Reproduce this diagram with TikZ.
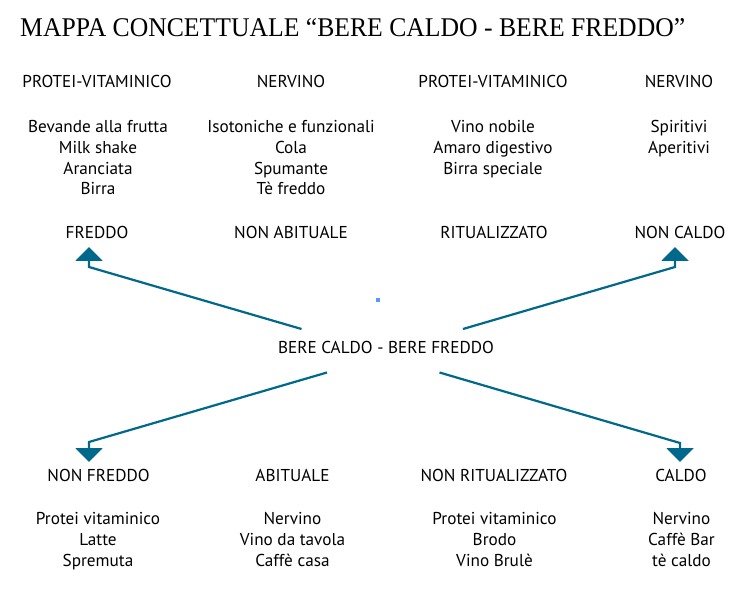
\documentclass[tikz,border=0pt]{standalone}
\usepackage{fontspec}
\usepackage{graphicx}
\setmainfont{PT Sans}
\newfontfamily\titlefont{Liberation Serif}
\usetikzlibrary{arrows.meta}
\definecolor{freccia}{RGB}{0,104,139}
\definecolor{puntino}{RGB}{85,153,255}
\tikzset{
  voce/.style={anchor=base,inner sep=0pt,font=\fontsize{17.2}{17.2}\selectfont},
  conn/.style={draw=freccia,line width=2.2pt,-{Triangle[width=27pt,length=14pt]}}
}
\begin{document}
\begin{tikzpicture}[x=1pt,y=-1pt]
      \useasboundingbox (0,0) rectangle (752,601);
      \node[anchor=base west,inner sep=0pt] (titolo) at (20,36.7)
        {\resizebox{665pt}{18pt}{\titlefont MAPPA CONCETTUALE “BERE CALDO - BERE FREDDO”}};
      \node[voce] (pv1) at (97,88) {PROTEI-VITAMINICO};
      \node[voce] (nv1) at (291,88) {NERVINO};
      \node[voce] (pv2) at (493,88) {PROTEI-VITAMINICO};
      \node[voce] (nv2) at (679,88) {NERVINO};
      \foreach \t [count=\i] in {Bevande alla frutta,Milk shake,Aranciata,Birra}
        \node[voce] (a\i) at (98,{111.7+20.8*\i}) {\t};
      \foreach \t [count=\i] in {Isotoniche e funzionali,Cola,Spumante,Tè freddo}
        \node[voce] (b\i) at (291,{111.7+20.8*\i}) {\t};
      \foreach \t [count=\i] in {Vino nobile,Amaro digestivo,Birra speciale}
        \node[voce] (c\i) at (493,{111.7+20.8*\i}) {\t};
      \foreach \t [count=\i] in {Spiritivi,Aperitivi}
        \node[voce] (d\i) at (679,{111.7+20.8*\i}) {\t};
      \node[voce] (freddo) at (97,239) {FREDDO};
      \node[voce] (nonabituale) at (291,239) {NON ABITUALE};
      \node[voce] (ritualizzato) at (494,239) {RITUALIZZATO};
      \node[voce] (noncaldo) at (680,239) {NON CALDO};
      \node[voce] (centro) at (386,353) {BERE CALDO - BERE FREDDO};
      \node[voce] (nonfreddo) at (98.5,481) {NON FREDDO};
      \node[voce] (abituale) at (292.5,481) {ABITUALE};
      \node[voce] (nonritualizzato) at (494,481) {NON RITUALIZZATO};
      \node[voce] (caldo) at (681,481) {CALDO};
      \foreach \t [count=\i] in {Protei vitaminico,Latte,Spremuta}
        \node[voce] (e\i) at (98,{502.7+21.3*\i}) {\t};
      \foreach \t [count=\i] in {Nervino,Vino da tavola,Caffè casa}
        \node[voce] (f\i) at (292.5,{502.7+21.3*\i}) {\t};
      \foreach \t [count=\i] in {Protei vitaminico,Brodo,Vino Brulè}
        \node[voce] (g\i) at (494.5,{502.7+21.3*\i}) {\t};
      \foreach \t [count=\i] in {Nervino,Caffè Bar,tè caldo}
        \node[voce] (h\i) at (681.5,{502.7+21.3*\i}) {\t};
      \coordinate (c-nw) at (301.5,329);
      \coordinate (c-ne) at (463,329);
      \coordinate (c-sw) at (327,372.5);
      \coordinate (c-se) at (439.5,372.5);
      \coordinate (freddo-in) at (89,267);
      \coordinate (freddo-tip) at (89,247);
      \coordinate (noncaldo-in) at (675,267);
      \coordinate (noncaldo-tip) at (675,247);
      \coordinate (nonfreddo-in) at (89,442);
      \coordinate (nonfreddo-tip) at (89,462);
      \coordinate (caldo-in) at (680,443);
      \coordinate (caldo-tip) at (680,462);
      \begin{scope}[conn]
        \draw (c-nw) -- (freddo-in) -- (freddo-tip);
        \draw (c-ne) -- (noncaldo-in) -- (noncaldo-tip);
        \draw (c-sw) -- (nonfreddo-in) -- (nonfreddo-tip);
        \draw (c-se) -- (caldo-in) -- (caldo-tip);
      \end{scope}
      \fill[puntino] (376,298) rectangle (380,302);
    \end{tikzpicture}
\end{document}
